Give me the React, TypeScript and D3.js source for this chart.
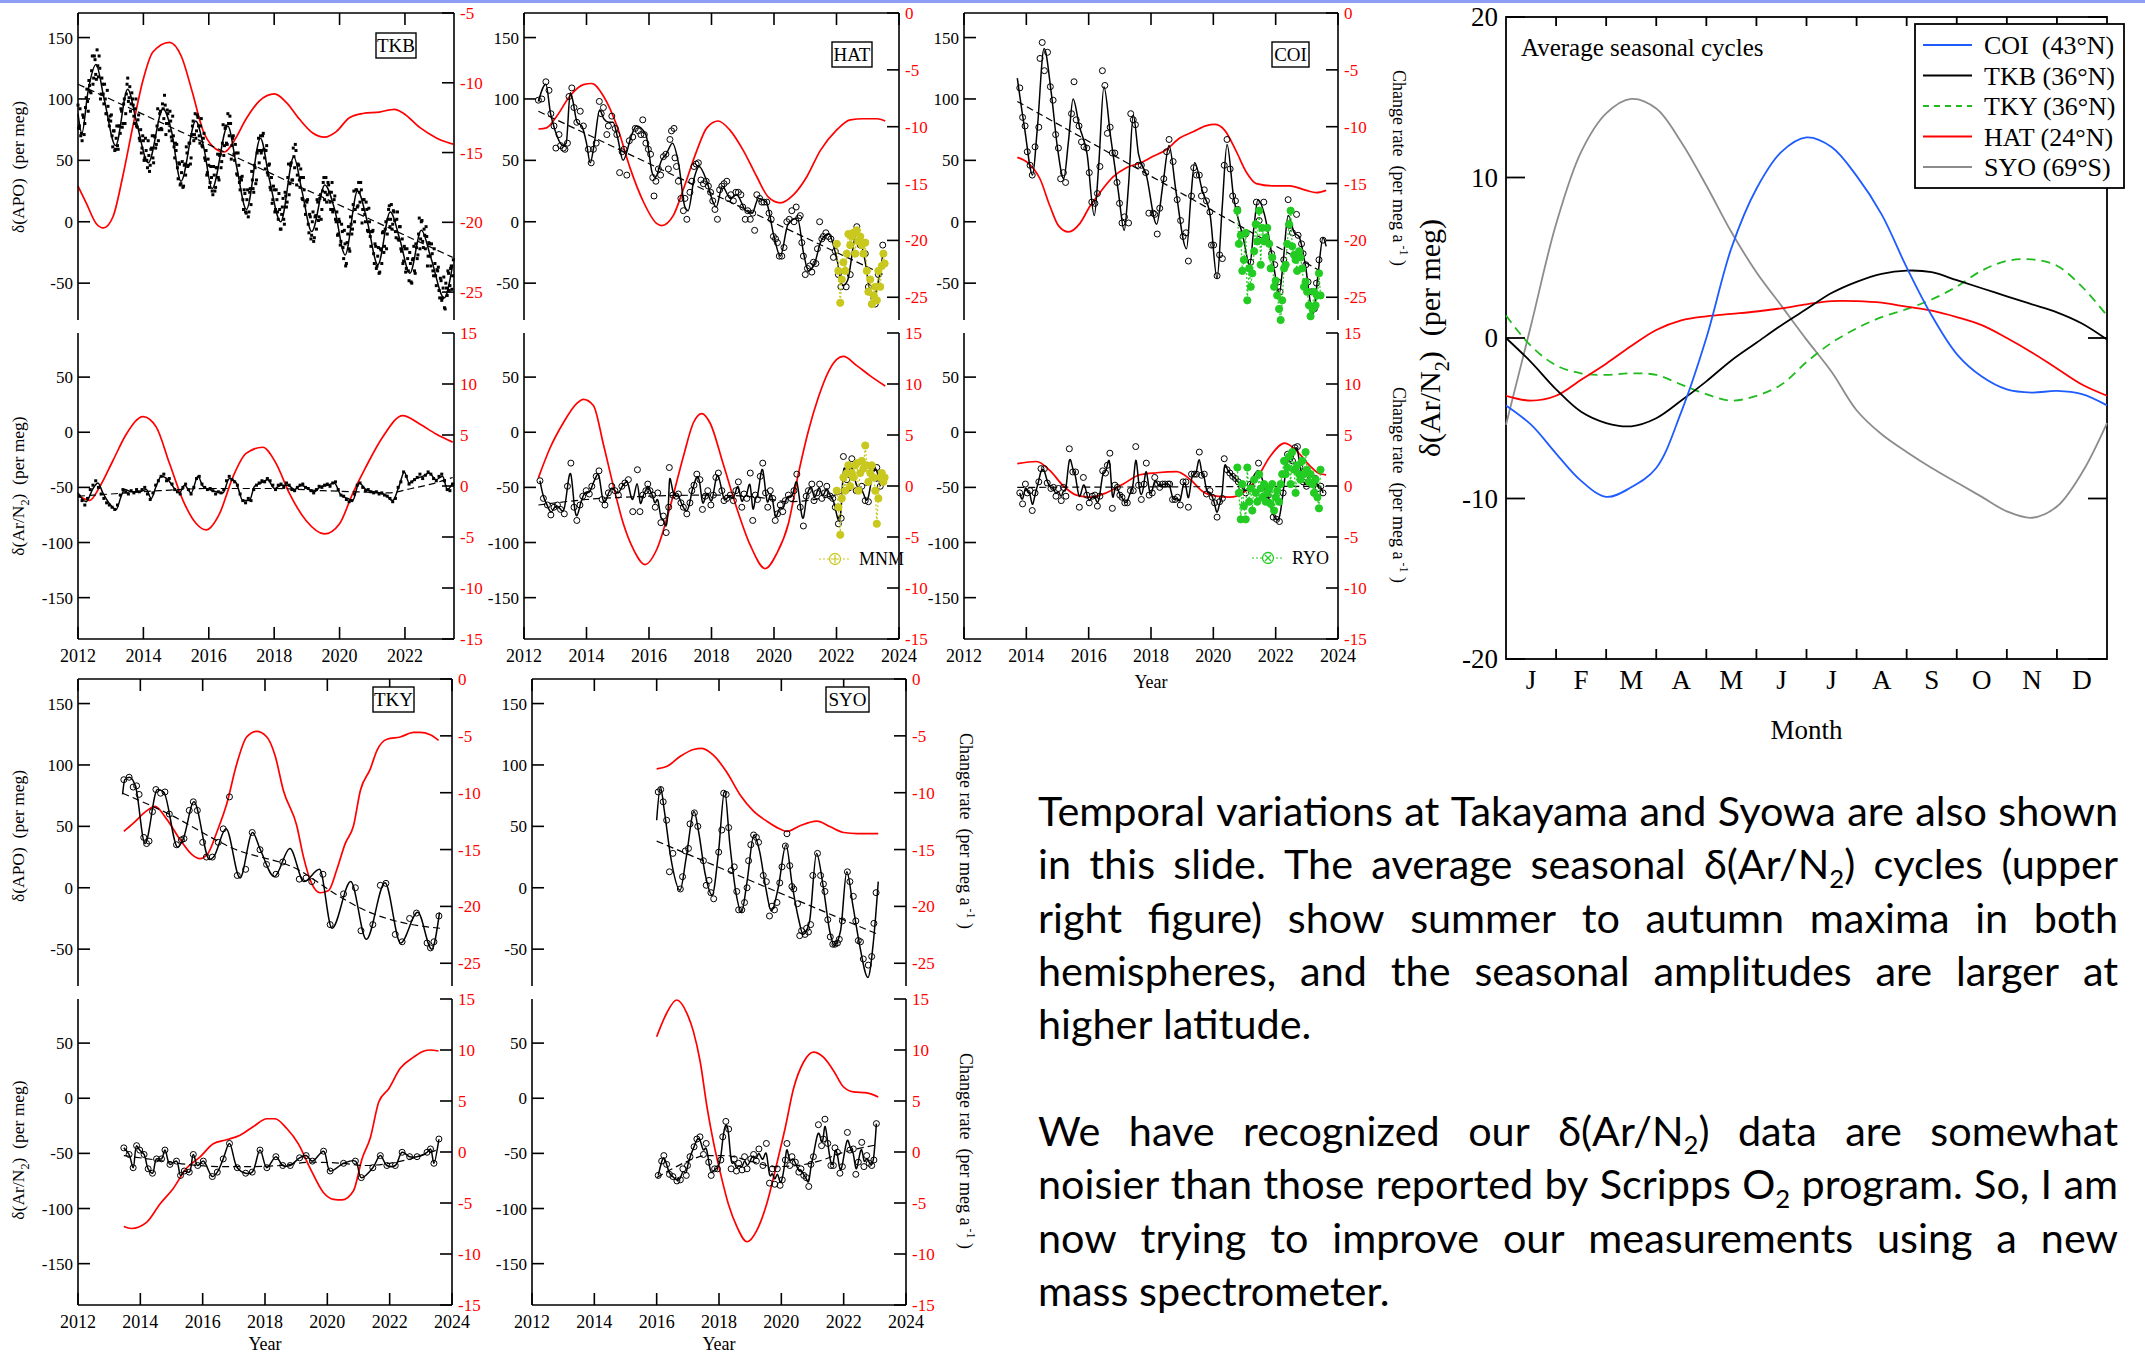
import React from "react";
import * as d3 from "d3";

type Pt = [number, number];
const SERIF = "'Liberation Serif','Times New Roman',Times,serif";
const RED = "#ff0000";

// ---------------- tick labels / categories ----------------
const yearTicks = [2012, 2014, 2016, 2018, 2020, 2022, 2024];
const apoTicks = [150, 100, 50, 0, -50];
const arTicks = [50, 0, -50, -100, -150];
const rateTicksTKB = [-5, -10, -15, -20, -25];
const rateTicksTop = [0, -5, -10, -15, -20, -25];
const rateTicksBot = [15, 10, 5, 0, -5, -10, -15];
const monthLabels = ["J", "F", "M", "A", "M", "J", "J", "A", "S", "O", "N", "D"];
const seasonTicks = [20, 10, 0, -10, -20];
const seasonPos = [0, 0.5, 1, 1.5, 2, 2.5, 3, 3.5, 4, 4.5, 5, 5.5, 6, 6.5, 7, 7.5, 8, 8.5, 9, 9.5, 10, 10.5, 11, 11.5, 12];

// ---------------- TKB ----------------
// semi-monthly observations from 2012.0 (step 1/24 yr)
const tkbApoDots = [
  95, 78, 70, 66, 85, 80, 101, 98, 115, 106, 123, 112, 135, 120, 140, 118, 125, 104, 112, 96, 100, 88, 94, 78,
  82, 70, 74, 58, 68, 62, 78, 72, 90, 80, 100, 88, 112, 98, 110, 96, 100, 86, 92, 78, 83, 68, 75, 60,
  66, 52, 58, 44, 54, 46, 60, 52, 70, 60, 78, 66, 88, 76, 96, 84, 95, 80, 88, 74, 82, 66, 70, 52,
  58, 44, 48, 30, 40, 28, 46, 38, 56, 46, 64, 52, 78, 66, 88, 74, 85, 70, 78, 62, 68, 52, 58, 40,
  46, 32, 36, 22, 38, 28, 44, 36, 54, 44, 64, 54, 76, 64, 88, 70, 80, 62, 70, 50, 56, 38, 46, 26,
  34, 18, 26, 8, 18, 4, 24, 14, 34, 24, 44, 34, 58, 48, 70, 58, 72, 52, 58, 40, 46, 28, 36, 18,
  26, 10, 18, 2, 10, -6, 12, 2, 24, 12, 36, 22, 46, 34, 60, 44, 58, 38, 46, 28, 36, 18, 26, 6,
  16, -2, 6, -14, 0, -16, 4, -6, 16, 4, 22, 10, 32, 18, 36, 22, 30, 16, 24, 8, 18, 2, 8, -10,
  0, -16, -8, -30, -18, -34, -10, -22, 4, -10, 14, 0, 26, 12, 32, 16, 26, 10, 18, 0, 10, -8, 0, -20,
  -8, -26, -18, -38, -28, -42, -22, -34, -8, -20, 0, -10, 10, -4, 14, -2, 8, -8, 2, -14, -4, -22, -14, -32,
  -22, -38, -30, -48, -34, -50, -30, -40, -18, -30, -10, -22, 0, -16, -6, -22, -12, -28, -18, -36, -26, -44, -34, -52,
  -40, -56, -46, -64, -54, -70, -50, -60, -42, -52, -36, -44,
];
// second set of semi-monthly observations, offset by a quarter month
const tkbApoDots2 = [
  76, 92, 72, 87, 71, 93, 108, 90, 111, 105, 135, 117, 132, 116, 127, 135, 100, 117, 104, 112, 88, 107, 83, 86,
  87, 61, 74, 59, 78, 59, 78, 92, 77, 96, 80, 104, 117, 101, 90, 105, 95, 80, 100, 77, 87, 66, 56, 70,
  50, 68, 50, 66, 41, 59, 70, 48, 69, 63, 92, 75, 90, 75, 92, 103, 71, 91, 80, 90, 69, 86, 61, 64,
  63, 35, 47, 31, 49, 29, 47, 61, 45, 64, 47, 71, 82, 71, 68, 87, 78, 64, 84, 61, 72, 50, 38, 51,
  28, 45, 25, 45, 25, 44, 55, 34, 55, 49, 79, 62, 78, 63, 80, 86, 51, 68, 55, 63, 39, 56, 32, 36,
  37, 10, 23, 7, 26, 8, 27, 41, 27, 46, 31, 56, 68, 58, 56, 70, 59, 43, 62, 38, 47, 26, 15, 29,
  8, 26, 8, 23, -6, 6, 19, -2, 21, 16, 47, 31, 48, 34, 53, 63, 30, 47, 34, 43, 19, 36, 13, 17,
  18, -9, 4, -11, 8, -13, 5, 18, 1, 19, 2, 25, 36, 24, 16, 32, 24, 10, 32, 10, 21, 0, -11, 2,
  -19, -2, -21, -7, -36, -17, -4, -24, -2, -6, 25, 10, 26, 13, 24, 32, -1, 18, 6, 16, -7, 11, -12, -8,
  -7, -34, -20, -36, -21, -41, -23, -9, -25, -6, -22, 2, 13, 2, -6, 9, 1, -13, 8, -15, -4, -24, -34, -20,
  -41, -22, -40, -25, -49, -31, -20, -42, -21, -27, 3, -14, 1, -21, -11, -4, -36, -17, -28, -18, -40, -22, -44, -39,
  -37, -62, -48, -62, -45, -71, -54, -40, -56, -38, -55, -31,
];
const tkbApoFit: Pt[] = [[2012.0,88],[2012.12,72],[2012.3,105],[2012.55,128],[2012.8,100],[2013.15,62],[2013.52,108],[2013.8,80],[2014.15,48],[2014.6,92],[2014.85,75],[2015.15,33],[2015.6,82],[2015.85,60],[2016.1,27],[2016.58,78],[2016.85,45],[2017.15,10],[2017.58,68],[2017.85,35],[2018.2,0],[2018.6,53],[2018.85,25],[2019.15,-8],[2019.55,30],[2019.85,10],[2020.17,-27],[2020.55,25],[2020.85,0],[2021.17,-35],[2021.55,8],[2021.85,-15],[2022.15,-42],[2022.5,-7],[2022.8,-30],[2023.2,-62],[2023.46,-35]];
const tkbApoTrend: Pt[] = [[2012.0,112],[2023.46,-29]];
const tkbApoRate: Pt[] = [[2012.0,-17.4],[2012.25,-18.6],[2012.56,-20.1],[2012.78,-20.4],[2013.07,-19.6],[2013.37,-16.7],[2013.68,-13.1],[2013.99,-9.8],[2014.29,-7.8],[2014.8,-7.1],[2015.16,-8.1],[2015.5,-10.7],[2015.82,-13.4],[2016.12,-14.55],[2016.48,-14.96],[2016.79,-14.1],[2017.14,-12.6],[2017.55,-11.3],[2018.01,-10.8],[2018.37,-11.4],[2018.77,-12.6],[2019.18,-13.6],[2019.54,-13.9],[2019.9,-13.5],[2020.3,-12.5],[2020.71,-12.2],[2021.22,-12.1],[2021.68,-11.9],[2021.94,-12.16],[2022.45,-13.2],[2022.96,-13.95],[2023.47,-14.4]];
// monthly observations from 2012 (mid-month)
const tkbArDots = [
  -58, -62, -66, -60, -52, -48, -44, -50, -56, -60, -64, -66,
  -68, -70, -66, -57, -52, -54, -56, -53, -55, -52, -54, -52,
  -50, -56, -61, -55, -48, -44, -40, -38, -44, -42, -47, -52,
  -54, -56, -50, -47, -52, -56, -50, -42, -40, -47, -50, -52,
  -51, -53, -56, -54, -55, -52, -44, -40, -43, -45, -48, -56,
  -62, -64, -60, -62, -52, -48, -46, -44, -45, -42, -44, -48,
  -52, -48, -47, -50, -46, -48, -52, -53, -50, -48, -47, -50,
  -51, -53, -55, -52, -49, -50, -48, -47, -49, -46, -45, -52,
  -57, -58, -61, -63, -62, -56, -48, -46, -50, -53, -52, -54,
  -55, -54, -56, -55, -57, -58, -60, -63, -60, -50, -45, -36,
  -40, -47, -45, -43, -41, -38, -42, -39, -36, -38, -42, -44,
  -40, -38, -44, -52, -53, -47,
];
const tkbArFit: Pt[] = [[2012.0,-55],[2012.25,-63],[2012.46,-51],[2012.61,-46],[2012.76,-55],[2012.97,-65],[2013.17,-70],[2013.32,-58],[2013.43,-52],[2013.63,-54],[2013.88,-54],[2014.09,-52],[2014.24,-60],[2014.39,-49],[2014.55,-40],[2014.75,-43],[2014.95,-51],[2015.1,-55],[2015.26,-48],[2015.46,-55],[2015.67,-40],[2015.82,-49],[2016.02,-52],[2016.23,-54],[2016.43,-55],[2016.63,-42],[2016.84,-46],[2017.04,-62],[2017.24,-62],[2017.4,-49],[2017.6,-46],[2017.8,-43],[2018.01,-51],[2018.21,-48],[2018.42,-48],[2018.62,-52],[2018.82,-48],[2019.03,-51],[2019.23,-54],[2019.43,-49],[2019.64,-48],[2019.84,-46],[2020.04,-57],[2020.25,-60],[2020.4,-62],[2020.6,-46],[2020.81,-52],[2021.01,-54],[2021.22,-55],[2021.42,-57],[2021.62,-62],[2021.83,-48],[2021.98,-36],[2022.13,-46],[2022.34,-42],[2022.54,-40],[2022.74,-37],[2022.95,-43],[2023.15,-40],[2023.3,-52],[2023.46,-46]];
const tkbArTrend: Pt[] = [[2012.0,-58],[2013.0,-56],[2014.5,-53],[2016.0,-51],[2018.0,-51],[2019.5,-53],[2020.5,-54],[2021.5,-55],[2022.2,-51],[2022.8,-47],[2023.46,-41]];
const tkbArRate: Pt[] = [[2012.0,-0.9],[2012.36,-1.4],[2012.66,-0.1],[2013.07,2.5],[2013.48,5.1],[2013.99,6.8],[2014.39,5.8],[2014.8,2.2],[2015.21,-1.4],[2015.62,-3.7],[2015.92,-4.3],[2016.33,-2.7],[2016.74,0.9],[2017.14,3.2],[2017.65,3.8],[2018.06,2.2],[2018.47,-0.75],[2018.98,-3.4],[2019.54,-4.7],[2020.0,-3.7],[2020.4,-0.75],[2020.81,1.9],[2021.32,4.8],[2021.93,6.9],[2022.44,6.1],[2022.95,5.1],[2023.46,4.3]];

// ---------------- HAT ----------------
const hatApoObs: Pt[] = [[2012.46,99],[2012.57,100],[2012.7,114],[2012.8,107],[2012.86,88],[2012.96,78],[2013.02,60],[2013.12,71],[2013.17,62],[2013.26,60],[2013.31,59],[2013.39,64],[2013.44,102],[2013.53,109],[2013.6,93],[2013.69,81],[2013.8,90],[2013.9,78],[2014.06,59],[2014.15,48],[2014.22,59],[2014.31,64],[2014.41,98],[2014.47,88],[2014.54,93],[2014.65,71],[2014.7,78],[2014.81,86],[2014.92,76],[2014.97,71],[2015.06,40],[2015.14,57],[2015.2,59],[2015.29,38],[2015.37,66],[2015.48,69],[2015.56,76],[2015.66,74],[2015.74,71],[2015.8,83],[2015.85,71],[2015.9,64],[2015.98,59],[2016.05,55],[2016.12,36],[2016.16,21],[2016.22,33],[2016.3,43],[2016.37,38],[2016.46,53],[2016.54,55],[2016.62,43],[2016.67,67],[2016.72,74],[2016.8,76],[2016.83,52],[2016.88,45],[2016.94,33],[2017.02,19],[2017.1,9],[2017.15,19],[2017.21,2],[2017.31,24],[2017.37,33],[2017.44,45],[2017.51,47],[2017.58,48],[2017.66,34],[2017.74,31],[2017.83,33],[2017.9,29],[2017.97,24],[2018.04,17],[2018.11,10],[2018.19,2],[2018.26,26],[2018.33,29],[2018.4,31],[2018.49,33],[2018.54,19],[2018.62,22],[2018.7,17],[2018.78,24],[2018.86,24],[2018.94,22],[2019.0,12],[2019.08,2],[2019.16,9],[2019.24,2],[2019.32,7],[2019.38,-7],[2019.45,22],[2019.54,19],[2019.61,16],[2019.68,16],[2019.77,16],[2019.84,7],[2019.91,2],[2019.98,-12],[2020.05,-14],[2020.11,-17],[2020.17,-28],[2020.25,-28],[2020.32,-21],[2020.41,0],[2020.49,2],[2020.57,9],[2020.64,0],[2020.71,12],[2020.79,3],[2020.84,5],[2020.89,-17],[2020.94,-28],[2021.0,-43],[2021.07,-38],[2021.14,-36],[2021.21,-41],[2021.26,-33],[2021.34,-34],[2021.39,-22],[2021.46,0],[2021.53,-14],[2021.58,-12],[2021.66,-9],[2021.74,-12],[2021.82,-14],[2021.9,-29],[2021.96,-24],[2022.06,-43],[2022.14,-53],[2022.31,-53],[2022.44,-43],[2022.65,-4],[2022.76,-19],[2022.92,-26],[2023.02,-53],[2023.13,-67],[2023.24,-67],[2023.34,-43],[2023.48,-19]];
const hatApoFit: Pt[] = [[2012.46,98],[2012.7,112],[2012.85,88],[2013.0,74],[2013.25,62],[2013.35,64],[2013.48,105],[2013.55,100],[2013.7,81],[2013.85,78],[2014.0,64],[2014.12,48],[2014.25,64],[2014.42,91],[2014.55,84],[2014.72,81],[2014.85,81],[2015.0,68],[2015.17,50],[2015.45,71],[2015.6,78],[2015.9,71],[2016.1,40],[2016.2,36],[2016.4,50],[2016.55,55],[2016.75,64],[2016.95,47],[2017.15,12],[2017.25,9],[2017.45,36],[2017.6,45],[2017.85,33],[2018.05,16],[2018.15,12],[2018.35,29],[2018.6,19],[2018.8,22],[2019.1,9],[2019.3,7],[2019.5,19],[2019.75,16],[2020.0,-12],[2020.2,-28],[2020.45,-2],[2020.75,3],[2020.95,-26],[2021.1,-40],[2021.3,-34],[2021.5,-16],[2021.75,-10],[2022.0,-29],[2022.2,-52],[2022.35,-48],[2022.65,-8],[2022.9,-30],[2023.15,-65],[2023.35,-47],[2023.5,-24]];
const hatApoTrend: Pt[] = [[2012.46,90],[2023.5,-43]];
const hatApoRate: Pt[] = [[2012.46,-10.2],[2012.72,-10.1],[2013.04,-9.1],[2013.47,-7.3],[2013.9,-6.3],[2014.17,-6.2],[2014.54,-7.3],[2014.97,-9.9],[2015.39,-13.6],[2015.82,-16.6],[2016.24,-18.5],[2016.4,-18.7],[2016.78,-17.8],[2017.1,-15.5],[2017.53,-12.1],[2017.85,-10.1],[2018.21,-9.5],[2018.59,-10.3],[2019.02,-12.1],[2019.45,-14.4],[2019.82,-16.2],[2020.2,-16.7],[2020.62,-16.0],[2021.05,-14.4],[2021.48,-12.1],[2022.0,-10.3],[2022.44,-9.4],[2022.86,-9.3],[2023.29,-9.3],[2023.56,-9.5]];
const hatArObs: Pt[] = [[2012.51,-44],[2012.62,-60],[2012.75,-66],[2012.86,-75],[2012.96,-68],[2013.07,-66],[2013.17,-70],[2013.29,-74],[2013.39,-49],[2013.5,-28],[2013.6,-68],[2013.69,-80],[2013.79,-66],[2013.88,-58],[2013.99,-53],[2014.09,-56],[2014.17,-49],[2014.31,-40],[2014.4,-35],[2014.5,-61],[2014.59,-66],[2014.7,-55],[2014.81,-49],[2014.91,-53],[2015.02,-57],[2015.13,-49],[2015.23,-46],[2015.34,-43],[2015.48,-72],[2015.63,-34],[2015.71,-72],[2015.8,-57],[2015.9,-53],[2015.96,-47],[2016.03,-53],[2016.12,-57],[2016.2,-68],[2016.28,-55],[2016.38,-82],[2016.46,-76],[2016.55,-91],[2016.63,-68],[2016.65,-32],[2016.76,-57],[2016.87,-58],[2016.94,-56],[2017.02,-64],[2017.1,-68],[2017.21,-74],[2017.31,-64],[2017.37,-53],[2017.44,-48],[2017.53,-38],[2017.63,-43],[2017.71,-70],[2017.8,-58],[2017.88,-53],[2017.98,-66],[2018.06,-57],[2018.14,-41],[2018.22,-37],[2018.33,-53],[2018.4,-62],[2018.49,-60],[2018.6,-57],[2018.7,-62],[2018.78,-53],[2018.86,-45],[2018.97,-68],[2019.04,-56],[2019.13,-60],[2019.24,-37],[2019.32,-80],[2019.4,-57],[2019.47,-61],[2019.56,-40],[2019.64,-28],[2019.73,-55],[2019.8,-68],[2019.88,-53],[2019.96,-60],[2020.04,-80],[2020.11,-74],[2020.2,-66],[2020.28,-72],[2020.36,-62],[2020.46,-57],[2020.55,-60],[2020.64,-53],[2020.73,-38],[2020.84,-68],[2020.94,-85],[2021.03,-58],[2021.1,-53],[2021.21,-47],[2021.28,-62],[2021.37,-55],[2021.46,-47],[2021.53,-60],[2021.62,-55],[2021.69,-49],[2021.8,-58],[2021.88,-60],[2021.96,-68],[2022.06,-83],[2022.15,-78],[2022.22,-22],[2022.33,-43],[2022.49,-24],[2022.63,-53],[2022.81,-49],[2022.92,-62],[2023.02,-63],[2023.16,-33],[2023.29,-32],[2023.4,-49]];
const hatArTrend: Pt[] = [[2012.46,-66],[2014.0,-61],[2016.0,-58],[2018.0,-57],[2019.5,-59],[2020.5,-63],[2021.5,-60],[2022.2,-55],[2023.5,-42]];
const hatArRate: Pt[] = [[2012.46,0.8],[2012.83,3.7],[2013.26,6.2],[2013.69,8.1],[2013.9,8.5],[2014.22,7.9],[2014.54,4.1],[2014.86,0],[2015.18,-3.7],[2015.5,-6.2],[2015.87,-7.7],[2016.25,-6.2],[2016.67,-2.1],[2017.1,2.9],[2017.42,6.2],[2017.69,7.1],[2017.95,6.2],[2018.38,2.1],[2018.8,-2.1],[2019.24,-5.8],[2019.72,-8.1],[2020.09,-6.6],[2020.46,-3.7],[2020.78,1.2],[2021.1,5.4],[2021.42,8.7],[2021.74,11.2],[2022.0,12.4],[2022.22,12.7],[2022.65,11.8],[2023.08,10.8],[2023.56,9.8]];
const mnmApo: Pt[] = [[2022.01,-18],[2022.06,-40],[2022.12,-66],[2022.17,-47],[2022.22,-33],[2022.28,-40],[2022.33,-26],[2022.38,-10],[2022.44,-19],[2022.49,-12],[2022.54,-9],[2022.6,-26],[2022.65,-7],[2022.7,-16],[2022.76,-12],[2022.81,-19],[2022.86,-26],[2022.92,-17],[2022.97,-40],[2023.02,-57],[2023.08,-47],[2023.13,-67],[2023.19,-60],[2023.24,-53],[2023.29,-64],[2023.34,-40],[2023.4,-53],[2023.45,-36],[2023.5,-26],[2023.54,-34]];
const mnmAr: Pt[] = [[2022.01,-53],[2022.06,-68],[2022.12,-93],[2022.17,-60],[2022.22,-41],[2022.28,-53],[2022.33,-37],[2022.38,-30],[2022.44,-49],[2022.49,-37],[2022.54,-41],[2022.6,-30],[2022.65,-28],[2022.7,-53],[2022.76,-37],[2022.81,-26],[2022.86,-33],[2022.92,-12],[2022.97,-30],[2023.02,-45],[2023.08,-37],[2023.13,-30],[2023.19,-41],[2023.24,-53],[2023.29,-83],[2023.34,-60],[2023.4,-41],[2023.45,-37],[2023.5,-45],[2023.54,-41]];

// ---------------- COI ----------------
const coiApoObs: Pt[] = [[2013.79,109],[2013.88,85],[2013.96,78],[2014.03,57],[2014.12,46],[2014.19,38],[2014.28,61],[2014.4,77],[2014.44,133],[2014.51,146],[2014.58,123],[2014.68,138],[2014.77,110],[2014.86,99],[2014.94,71],[2015.03,60],[2015.1,35],[2015.19,40],[2015.26,32],[2015.45,88],[2015.53,114],[2015.6,83],[2015.69,78],[2015.77,65],[2015.85,61],[2015.94,60],[2016.02,40],[2016.1,16],[2016.2,15],[2016.28,23],[2016.36,45],[2016.44,123],[2016.52,111],[2016.6,72],[2016.69,77],[2016.76,56],[2016.84,56],[2016.91,32],[2016.99,15],[2017.07,-1],[2017.15,4],[2017.28,-1],[2017.35,88],[2017.43,83],[2017.5,79],[2017.59,46],[2017.69,46],[2017.83,40],[2017.93,7],[2018.07,7],[2018.12,6],[2018.2,-10],[2018.28,11],[2018.41,35],[2018.5,57],[2018.58,67],[2018.71,49],[2018.84,18],[2018.95,1],[2019.03,-12],[2019.12,-9],[2019.2,-32],[2019.3,21],[2019.37,44],[2019.46,38],[2019.55,38],[2019.62,21],[2019.71,26],[2019.78,17],[2019.89,8],[2019.94,-19],[2020.01,-19],[2020.12,-44],[2020.2,-27],[2020.29,-30],[2020.35,46],[2020.44,67],[2020.54,43],[2020.62,21],[2020.71,17],[2020.78,10],[2020.91,-10],[2021.04,-10],[2021.2,-33],[2021.38,16],[2021.47,1],[2021.62,16],[2021.73,-5],[2021.87,-26],[2021.97,-35],[2022.08,-49],[2022.14,-57],[2022.26,-31],[2022.4,18],[2022.45,-3],[2022.54,-9],[2022.67,6],[2022.72,-11],[2022.83,-18],[2022.88,-26],[2022.97,-35],[2023.04,-49],[2023.15,-57],[2023.24,-71],[2023.31,-50],[2023.39,-31],[2023.52,-15]];
const coiApoFit: Pt[] = [[2013.71,117],[2013.95,75],[2014.2,38],[2014.35,75],[2014.57,141],[2014.8,105],[2015.0,60],[2015.2,35],[2015.35,65],[2015.5,100],[2015.7,78],[2015.95,55],[2016.18,5],[2016.32,45],[2016.49,110],[2016.7,70],[2016.95,25],[2017.14,-7],[2017.28,30],[2017.43,87],[2017.6,55],[2017.85,38],[2018.18,-2],[2018.38,30],[2018.58,62],[2018.8,25],[2019.14,-22],[2019.28,20],[2019.4,48],[2019.65,25],[2019.9,5],[2020.12,-46],[2020.28,10],[2020.44,63],[2020.65,20],[2020.95,-12],[2021.17,-35],[2021.3,-5],[2021.43,18],[2021.65,5],[2021.9,-30],[2022.12,-58],[2022.25,-30],[2022.4,5],[2022.6,-9],[2022.75,-12],[2022.95,-35],[2023.2,-75],[2023.35,-45],[2023.52,-13],[2023.62,-20]];
const coiApoTrend: Pt[] = [[2013.71,98],[2023.57,-42]];
const coiApoRate: Pt[] = [[2013.71,-12.7],[2014.06,-13.2],[2014.44,-14.6],[2014.76,-17.0],[2015.03,-18.7],[2015.35,-19.25],[2015.72,-18.5],[2016.04,-17.0],[2016.36,-15.8],[2016.79,-14.4],[2017.21,-13.6],[2017.64,-13.2],[2018.07,-12.6],[2018.5,-12.0],[2018.92,-11.0],[2019.35,-10.45],[2019.78,-9.9],[2020.04,-9.8],[2020.36,-10.3],[2020.74,-12.2],[2021.06,-14.0],[2021.38,-15.0],[2021.91,-15.2],[2022.45,-15.2],[2022.98,-15.6],[2023.3,-15.8],[2023.62,-15.6]];
const coiArObs: Pt[] = [[2013.79,-55],[2013.88,-65],[2013.97,-47],[2014.03,-55],[2014.12,-53],[2014.19,-71],[2014.28,-55],[2014.4,-45],[2014.47,-33],[2014.58,-33],[2014.67,-46],[2014.79,-51],[2014.87,-50],[2014.95,-58],[2015.03,-51],[2015.12,-62],[2015.19,-50],[2015.27,-58],[2015.38,-15],[2015.49,-36],[2015.58,-36],[2015.7,-68],[2015.83,-41],[2015.94,-57],[2016.02,-64],[2016.12,-58],[2016.2,-57],[2016.28,-67],[2016.36,-58],[2016.45,-35],[2016.54,-37],[2016.6,-30],[2016.68,-19],[2016.76,-69],[2016.84,-48],[2016.92,-50],[2017.0,-57],[2017.07,-59],[2017.16,-64],[2017.24,-64],[2017.34,-53],[2017.43,-53],[2017.51,-13],[2017.6,-48],[2017.69,-61],[2017.78,-47],[2017.85,-28],[2017.94,-57],[2018.04,-55],[2018.12,-41],[2018.21,-47],[2018.28,-50],[2018.37,-47],[2018.45,-47],[2018.55,-47],[2018.6,-47],[2018.69,-61],[2018.77,-61],[2018.85,-59],[2018.94,-66],[2019.03,-45],[2019.12,-45],[2019.2,-68],[2019.3,-38],[2019.39,-38],[2019.46,-38],[2019.55,-18],[2019.62,-39],[2019.71,-38],[2019.78,-56],[2019.89,-53],[2019.97,-59],[2020.04,-64],[2020.12,-77],[2020.2,-63],[2020.29,-60],[2020.35,-24],[2020.44,-34],[2020.53,-37],[2020.62,-40],[2020.71,-42],[2020.8,-45],[2020.91,-50],[2021.04,-55],[2021.19,-47],[2021.45,-28],[2021.62,-49],[2021.76,-57],[2021.92,-77],[2022.03,-79],[2022.12,-81],[2022.24,-55],[2022.38,-20],[2022.46,-24],[2022.54,-26],[2022.62,-14],[2022.7,-13],[2022.78,-32],[2022.88,-45],[2022.99,-49],[2023.1,-43],[2023.2,-47],[2023.28,-42],[2023.36,-51],[2023.45,-49],[2023.52,-55]];
const coiArTrend: Pt[] = [[2013.71,-50],[2023.62,-49]];
const coiArRate: Pt[] = [[2013.71,2.2],[2014.33,2.4],[2014.76,1.5],[2015.19,0],[2015.61,-0.9],[2016.04,-1.1],[2016.57,-0.66],[2017.11,0.2],[2017.64,1.1],[2018.18,1.3],[2018.82,1.4],[2019.25,0.66],[2019.67,-0.57],[2020.1,-1.0],[2020.53,-1.1],[2020.96,-0.66],[2021.38,0.66],[2021.81,2.85],[2022.29,4.2],[2022.72,3.3],[2023.09,2.0],[2023.41,1.2],[2023.62,1.1]];
const ryoApo: Pt[] = [[2020.77,9],[2020.82,-18],[2020.88,-11],[2020.93,-40],[2020.98,-31],[2021.04,-9],[2021.09,-64],[2021.15,-38],[2021.2,-53],[2021.25,-42],[2021.31,-24],[2021.36,-2],[2021.41,-16],[2021.47,9],[2021.52,-35],[2021.57,-5],[2021.63,-16],[2021.68,-13],[2021.73,-5],[2021.79,-18],[2021.84,-38],[2021.89,-29],[2021.95,-53],[2022.0,-48],[2022.05,-60],[2022.11,-71],[2022.16,-80],[2022.21,-64],[2022.27,-38],[2022.32,-35],[2022.37,-18],[2022.43,-2],[2022.48,9],[2022.53,-20],[2022.59,-27],[2022.64,-31],[2022.69,-40],[2022.75,-24],[2022.8,-29],[2022.85,-38],[2022.91,-53],[2022.96,-49],[2023.01,-57],[2023.07,-68],[2023.12,-77],[2023.18,-71],[2023.23,-57],[2023.28,-68],[2023.34,-60],[2023.39,-42],[2023.44,-60]];
const ryoAr: Pt[] = [[2020.77,-32],[2020.82,-55],[2020.88,-79],[2020.93,-47],[2020.98,-67],[2021.04,-79],[2021.09,-32],[2021.15,-63],[2021.2,-51],[2021.25,-71],[2021.31,-43],[2021.36,-55],[2021.41,-63],[2021.47,-38],[2021.52,-51],[2021.57,-59],[2021.63,-47],[2021.68,-63],[2021.73,-55],[2021.79,-51],[2021.84,-65],[2021.89,-47],[2021.95,-71],[2022.0,-59],[2022.05,-53],[2022.11,-63],[2022.16,-47],[2022.21,-38],[2022.27,-26],[2022.32,-38],[2022.37,-32],[2022.43,-22],[2022.48,-47],[2022.53,-18],[2022.59,-34],[2022.64,-55],[2022.69,-30],[2022.75,-38],[2022.8,-43],[2022.85,-26],[2022.91,-38],[2022.96,-18],[2023.01,-34],[2023.07,-45],[2023.12,-38],[2023.18,-47],[2023.23,-55],[2023.28,-43],[2023.34,-59],[2023.39,-69],[2023.44,-34]];

// ---------------- TKY ----------------
const tkyApoObs: Pt[] = [[2013.47,88],[2013.64,90],[2013.77,82],[2013.88,83],[2013.96,76],[2014.11,41],[2014.2,36],[2014.28,38],[2014.39,62],[2014.5,80],[2014.65,77],[2014.79,78],[2014.93,60],[2015.16,35],[2015.32,39],[2015.4,40],[2015.57,63],[2015.7,70],[2015.83,63],[2016.0,37],[2016.12,25],[2016.31,25],[2016.5,37],[2016.66,48],[2016.86,74],[2017.11,10],[2017.38,15],[2017.59,45],[2017.84,31],[2018.05,19],[2018.35,11],[2018.57,21],[2019.1,7],[2019.32,8],[2019.5,5],[2019.86,11],[2020.09,-30],[2020.52,-5],[2020.9,0],[2021.08,-35],[2021.46,-30],[2021.7,2],[2021.88,3.6],[2022.18,-38],[2022.4,-44],[2022.64,-25],[2022.86,-20.6],[2023.2,-45],[2023.31,-49],[2023.42,-44],[2023.58,-23]];
const tkyApoFit: Pt[] = [[2013.43,76],[2013.5,88],[2013.65,90],[2013.85,82],[2014.15,36],[2014.55,80],[2014.75,78],[2015.2,33],[2015.38,40],[2015.72,70],[2016.22,23],[2016.35,25],[2016.75,48],[2017.2,8],[2017.6,45],[2017.85,31],[2018.3,9],[2018.8,32],[2019.25,5],[2019.75,15],[2020.15,-33],[2020.75,5],[2021.25,-42],[2021.85,4],[2022.35,-45],[2022.9,-20],[2023.35,-50],[2023.6,-20]];
const tkyApoTrend: Pt[] = [[2013.43,77],[2014.84,61],[2016.98,32],[2019.12,14],[2020.19,-4],[2021.26,-19],[2022.34,-28],[2023.63,-33]];
const tkyApoRate: Pt[] = [[2013.47,-13.4],[2013.77,-12.7],[2014.2,-11.6],[2014.47,-11.2],[2014.84,-12.3],[2015.27,-14.1],[2015.64,-15.4],[2015.91,-15.8],[2016.18,-15.3],[2016.45,-13.5],[2016.77,-11.0],[2017.09,-7.5],[2017.41,-5.1],[2017.73,-4.6],[2018.06,-5.1],[2018.32,-6.7],[2018.59,-9.8],[2019.02,-12.9],[2019.23,-15.6],[2019.5,-18.0],[2019.77,-18.8],[2020.04,-18.6],[2020.3,-16.8],[2020.57,-14.5],[2020.84,-12.9],[2021.06,-9.8],[2021.38,-7.9],[2021.59,-6.3],[2021.91,-5.3],[2022.34,-5.1],[2022.77,-4.7],[2022.98,-4.7],[2023.3,-4.9],[2023.57,-5.4]];
const tkyArObs: Pt[] = [[2013.47,-45],[2013.64,-51],[2013.77,-63],[2013.88,-43],[2013.98,-47],[2014.12,-51],[2014.25,-64],[2014.39,-68],[2014.52,-55],[2014.68,-55],[2014.79,-47],[2014.95,-60],[2015.16,-57],[2015.29,-70],[2015.41,-66],[2015.57,-67],[2015.7,-51],[2015.84,-61],[2016.02,-57],[2016.31,-71],[2016.47,-67],[2016.66,-55],[2016.86,-41],[2017.11,-63],[2017.38,-68],[2017.59,-67],[2017.84,-47],[2018.06,-63],[2018.35,-53],[2018.57,-61],[2018.81,-61],[2019.11,-54],[2019.32,-52],[2019.52,-57],[2019.88,-48],[2020.09,-66],[2020.52,-59],[2020.9,-57],[2021.09,-72],[2021.46,-63],[2021.7,-52],[2021.91,-61],[2022.18,-61],[2022.4,-49],[2022.64,-53],[2022.88,-53],[2023.2,-49],[2023.31,-46],[2023.42,-59],[2023.58,-37]];
const tkyArTrend: Pt[] = [[2013.47,-52],[2014.5,-56],[2015.5,-60],[2016.5,-62],[2017.5,-62],[2018.5,-61],[2019.5,-58],[2020.5,-59],[2021.2,-61],[2022.0,-59],[2022.8,-54],[2023.6,-46]];
const tkyArRate: Pt[] = [[2013.47,-7.3],[2013.71,-7.5],[2014.2,-6.9],[2014.63,-5.1],[2015.05,-3.6],[2015.48,-1.6],[2015.91,-0.5],[2016.34,0.8],[2016.77,1.2],[2017.2,1.65],[2017.63,2.5],[2018.06,3.26],[2018.32,3.26],[2018.7,2.3],[2019.07,0.8],[2019.45,-1.6],[2019.88,-4.0],[2020.2,-4.65],[2020.47,-4.7],[2020.84,-3.8],[2021.11,-0.7],[2021.38,1.4],[2021.65,4.9],[2021.97,6.2],[2022.34,8.2],[2022.77,9.3],[2023.1,9.9],[2023.3,10.0],[2023.57,9.9]];

// ---------------- SYO ----------------
const syoApoObs: Pt[] = [[2016.05,78],[2016.13,80],[2016.21,70],[2016.32,55],[2016.41,13],[2016.52,28],[2016.76,-1],[2016.83,9],[2016.92,30],[2017.02,32],[2017.07,52],[2017.21,61],[2017.32,50],[2017.5,22],[2017.59,2],[2017.68,6],[2017.74,-4],[2017.83,-9],[2017.99,29],[2018.09,47],[2018.15,77],[2018.23,76],[2018.31,49],[2018.39,14],[2018.49,17],[2018.57,-3],[2018.63,-18],[2018.73,-18],[2018.82,-12],[2018.9,0],[2018.95,22],[2019.02,35],[2019.11,43],[2019.2,41],[2019.27,37],[2019.42,10],[2019.52,5],[2019.62,-23],[2019.7,-15],[2019.78,-18],[2019.86,-12],[2019.95,4],[2020.02,17],[2020.13,34],[2020.18,44],[2020.27,18],[2020.34,1],[2020.4,-1],[2020.52,-13],[2020.59,-39],[2020.65,-35],[2020.76,-38],[2020.81,-33],[2020.87,-36],[2020.94,-30],[2021.01,10],[2021.16,28],[2021.26,10],[2021.35,3],[2021.4,-3],[2021.49,-26],[2021.57,-40],[2021.65,-46],[2021.72,-46],[2021.8,-45],[2021.86,-42],[2021.96,-27],[2022.12,13],[2022.2,5],[2022.31,-7],[2022.39,-27],[2022.47,-43],[2022.54,-44],[2022.63,-58],[2022.79,-63],[2022.9,-56],[2022.97,-29],[2023.04,-4]];
const syoApoFit: Pt[] = [[2016.0,55],[2016.12,82],[2016.25,62],[2016.45,25],[2016.75,-2],[2016.95,25],[2017.2,62],[2017.35,45],[2017.55,12],[2017.78,-6],[2017.98,28],[2018.18,79],[2018.35,35],[2018.55,-5],[2018.72,-20],[2018.9,5],[2019.12,43],[2019.3,30],[2019.5,0],[2019.68,-19],[2019.9,0],[2020.15,35],[2020.35,2],[2020.55,-25],[2020.7,-38],[2020.9,-28],[2021.13,28],[2021.35,0],[2021.55,-35],[2021.7,-47],[2021.9,-35],[2022.1,13],[2022.3,-15],[2022.5,-45],[2022.78,-73],[2022.95,-45],[2023.11,5]];
const syoApoTrend: Pt[] = [[2016.0,38],[2023.11,-38]];
const syoApoRate: Pt[] = [[2016.0,-7.9],[2016.32,-7.7],[2016.76,-6.8],[2017.18,-6.2],[2017.45,-6.1],[2017.82,-6.7],[2018.25,-8.2],[2018.68,-10.2],[2019.1,-11.6],[2019.53,-12.5],[2019.96,-13.2],[2020.18,-13.4],[2020.6,-12.9],[2021.14,-12.5],[2021.57,-13.0],[2022.0,-13.5],[2022.43,-13.6],[2023.11,-13.6]];
const syoArObs: Pt[] = [[2016.05,-70],[2016.16,-57],[2016.23,-52],[2016.32,-60],[2016.41,-69],[2016.52,-71],[2016.65,-75],[2016.76,-74],[2016.84,-64],[2016.95,-70],[2016.99,-61],[2017.07,-53],[2017.2,-44],[2017.29,-37],[2017.39,-35],[2017.5,-51],[2017.59,-41],[2017.67,-58],[2017.75,-70],[2017.86,-64],[2017.95,-64],[2018.06,-56],[2018.12,-35],[2018.22,-21],[2018.31,-28],[2018.39,-64],[2018.49,-55],[2018.56,-66],[2018.63,-59],[2018.74,-65],[2018.82,-53],[2018.9,-64],[2019.02,-55],[2019.11,-51],[2019.2,-57],[2019.28,-46],[2019.41,-61],[2019.52,-41],[2019.62,-77],[2019.71,-64],[2019.79,-78],[2019.87,-64],[2019.96,-79],[2020.03,-74],[2020.13,-56],[2020.18,-41],[2020.27,-61],[2020.34,-53],[2020.45,-58],[2020.56,-67],[2020.63,-64],[2020.72,-70],[2020.8,-72],[2020.88,-80],[2020.95,-60],[2021.03,-53],[2021.19,-24],[2021.29,-43],[2021.35,-37],[2021.4,-19],[2021.49,-41],[2021.59,-61],[2021.67,-61],[2021.72,-45],[2021.8,-49],[2021.88,-68],[2021.96,-62],[2022.12,-31],[2022.2,-47],[2022.31,-46],[2022.39,-69],[2022.47,-58],[2022.58,-40],[2022.65,-62],[2022.74,-52],[2022.82,-59],[2022.9,-61],[2022.97,-56],[2023.05,-23]];
const syoArTrend: Pt[] = [[2016.0,-72],[2016.5,-64],[2017.0,-57],[2017.6,-52],[2018.2,-52],[2019.0,-57],[2019.8,-62],[2020.5,-61],[2021.2,-57],[2022.0,-49],[2023.11,-42]];
const syoArRate: Pt[] = [[2016.0,11.3],[2016.32,13.6],[2016.64,14.9],[2016.97,13.6],[2017.18,11.8],[2017.4,8.8],[2017.61,4.5],[2017.82,1.0],[2018.04,-2.0],[2018.3,-5.1],[2018.57,-7.3],[2018.9,-8.8],[2019.21,-7.7],[2019.53,-5.1],[2019.85,-1.2],[2020.12,2.3],[2020.39,6.2],[2020.71,8.8],[2021.03,9.8],[2021.35,9.3],[2021.67,8.0],[2021.99,6.4],[2022.31,5.9],[2022.74,5.8],[2023.11,5.4]];

// ---------------- seasonal cycles (per half month) ----------------
const seasonCOI = [-4.2, -5.4, -7.2, -8.9, -9.9, -9.3, -8.1, -4.6, 0.0, 5.6, 9.3, 11.6, 12.5, 11.9, 10.1, 7.7, 4.4, 1.4, -1.0, -2.4, -3.2, -3.4, -3.3, -3.5, -4.2];
const seasonTKB = [0.0, -1.5, -3.2, -4.6, -5.3, -5.5, -5.0, -3.9, -2.7, -1.4, -0.3, 0.8, 1.8, 2.8, 3.5, 4.0, 4.2, 4.1, 3.6, 3.1, 2.6, 2.1, 1.6, 0.9, -0.1];
const seasonTKY = [1.4, -0.5, -1.7, -2.2, -2.3, -2.2, -2.3, -2.9, -3.5, -3.9, -3.6, -2.9, -1.5, -0.3, 0.6, 1.3, 1.8, 2.4, 3.2, 4.2, 4.8, 4.9, 4.5, 3.2, 1.4];
const seasonHAT = [-3.6, -3.9, -3.6, -2.6, -1.6, -0.5, 0.5, 1.1, 1.35, 1.5, 1.65, 1.85, 2.1, 2.3, 2.3, 2.2, 1.95, 1.7, 1.3, 0.8, 0.0, -0.9, -1.9, -2.9, -3.6];
const seasonSYO = [-5.4, 0.8, 7.1, 11.6, 14.0, 14.9, 14.3, 12.2, 9.5, 6.6, 4.1, 2.0, -0.1, -2.1, -4.5, -6.0, -7.1, -8.1, -9.0, -9.9, -10.8, -11.2, -10.5, -8.4, -5.3];
const seasonSeries = [
  { name: "SYO (69°S)", values: seasonSYO, color: "#8c8c8c", dash: "" },
  { name: "TKY (36°N)", values: seasonTKY, color: "#1fbb1f", dash: "9,6" },
  { name: "HAT (24°N)", values: seasonHAT, color: "#ff0000", dash: "" },
  { name: "TKB (36°N)", values: seasonTKB, color: "#000000", dash: "" },
  { name: "COI  (43°N)", values: seasonCOI, color: "#1f5cff", dash: "" },
];
const legendOrder = ["COI  (43°N)", "TKB (36°N)", "TKY (36°N)", "HAT (24°N)", "SYO (69°S)"];

// ---------------- slide text ----------------
const para1 = [
  "Temporal variations at Takayama and Syowa are also shown",
  "in this slide. The average seasonal δ(Ar/N_2) cycles (upper",
  "right figure) show summer to autumn maxima in both",
  "hemispheres, and the seasonal amplitudes are larger at",
  "higher latitude.",
];
const para2 = [
  "We have recognized our δ(Ar/N_2) data are somewhat",
  "noisier than those reported by Scripps O_2 program. So, I am",
  "now trying to improve our measurements using a new",
  "mass spectrometer.",
];

// ====================================================================
type Spec = { x0: number; x1: number; y0: number; y1: number; xMax: number; top: boolean; rDom: [number, number]; rTicks: number[] };
type Sc = { x: d3.ScaleLinear<number, number>; yl: d3.ScaleLinear<number, number>; yr: d3.ScaleLinear<number, number> };
const TICK_FS = 17;

function scalesOf(sp: Spec): Sc {
  const x = d3.scaleLinear().domain([2012, sp.xMax]).range([sp.x0, sp.x1]);
  const yl = d3.scaleLinear().domain(sp.top ? [-80, 170] : [-187.5, 90]).range([sp.y1, sp.y0]);
  const yr = d3.scaleLinear().domain(sp.rDom).range([sp.y1, sp.y0]);
  return { x, yl, yr };
}

function Frame({ sp }: { sp: Spec }) {
  const s = scalesOf(sp);
  const ey = sp.top ? sp.y0 : sp.y1;
  const dir = sp.top ? 1 : -1;
  const xt = yearTicks.filter((t) => t <= sp.xMax + 1e-6);
  const lt = sp.top ? apoTicks : arTicks;
  const st = { stroke: "#000", strokeWidth: 1.6 };
  return (
    <g fontFamily={SERIF} fontSize={TICK_FS}>
      <line x1={sp.x0} x2={sp.x0} y1={sp.y0} y2={sp.y1} {...st} />
      <line x1={sp.x1} x2={sp.x1} y1={sp.y0} y2={sp.y1} {...st} />
      <line x1={sp.x0} x2={sp.x1} y1={ey} y2={ey} {...st} />
      {xt.map((t) => (
        <line key={"xt" + t} x1={s.x(t)} x2={s.x(t)} y1={ey} y2={ey + dir * 12} {...st} />
      ))}
      {!sp.top &&
        xt.map((t) => (
          <text key={"xl" + t} x={s.x(t)} y={sp.y1 + 23} textAnchor="middle" fill="#000" fontSize={18}>
            {t}
          </text>
        ))}
      {lt.map((v) => (
        <g key={"lt" + v}>
          <line x1={sp.x0} x2={sp.x0 + 12} y1={s.yl(v)} y2={s.yl(v)} {...st} />
          <text x={sp.x0 - 5} y={s.yl(v) + 6} textAnchor="end" fill="#000">
            {v}
          </text>
        </g>
      ))}
      {sp.rTicks.map((v) => (
        <g key={"rt" + v}>
          <line x1={sp.x1 - 12} x2={sp.x1} y1={s.yr(v)} y2={s.yr(v)} {...st} />
          <text x={sp.x1 + 6} y={s.yr(v) + 6} textAnchor="start" fill={RED}>
            {v}
          </text>
        </g>
      ))}
    </g>
  );
}

function pathL(s: Sc, data: Pt[], curve: d3.CurveFactory, right = false) {
  const g = d3
    .line<Pt>()
    .x((d) => s.x(d[0]))
    .y((d) => (right ? s.yr(d[1]) : s.yl(d[1])))
    .curve(curve);
  return g(data) || "";
}

function Series({ s, obs, fit, fitCurve, trend, rate, dots, extra }: { s: Sc; obs?: Pt[]; fit?: Pt[]; fitCurve?: d3.CurveFactory; trend: Pt[]; rate: Pt[]; dots?: Pt[]; extra?: { data: Pt[]; color: string } }) {
  return (
    <g>
      <path d={pathL(s, rate, d3.curveMonotoneX, true)} fill="none" stroke={RED} strokeWidth={1.7} />
      {dots && dots.map((d, i) => <rect key={"d" + i} x={s.x(d[0]) - 1.5} y={s.yl(d[1]) - 1.5} width={3} height={3} fill="#000" />)}
      {fit && <path d={pathL(s, fit, fitCurve || d3.curveMonotoneX)} fill="none" stroke="#000" strokeWidth={1.5} />}
      <path d={pathL(s, trend, d3.curveMonotoneX)} fill="none" stroke="#000" strokeWidth={1.2} strokeDasharray="7,4" />
      {obs && obs.map((d, i) => <circle key={"o" + i} cx={s.x(d[0])} cy={s.yl(d[1])} r={3} fill="none" stroke="#000" strokeWidth={1} />)}
      {extra && (
        <g>
          <path d={pathL(s, extra.data, d3.curveLinear)} fill="none" stroke={extra.color} strokeWidth={1.2} strokeDasharray="2,2" />
          {extra.data.map((d, i) => (
            <circle key={"e" + i} cx={s.x(d[0])} cy={s.yl(d[1])} r={3.6} fill={extra.color} stroke={extra.color} strokeWidth={1} />
          ))}
        </g>
      )}
    </g>
  );
}

function PanelLabel({ x, y, w, text }: { x: number; y: number; w: number; text: string }) {
  return (
    <g>
      <rect x={x} y={y} width={w} height={25} fill="#fff" stroke="#000" strokeWidth={1.4} />
      <text x={x + w / 2} y={y + 19} textAnchor="middle" fontFamily={SERIF} fontSize={19}>
        {text}
      </text>
    </g>
  );
}

function RotLabel({ x, y, ar, size = 17.5 }: { x: number; y: number; ar: boolean; size?: number }) {
  return (
    <text transform={`translate(${x},${y}) rotate(-90)`} textAnchor="middle" fontFamily={SERIF} fontSize={size} style={{ whiteSpace: "pre" }}>
      {ar ? (
        <>
          <tspan>δ(Ar/N</tspan>
          <tspan dy={size * 0.3} fontSize={size * 0.7}>2</tspan>
          <tspan dy={-size * 0.3}>{")  (per meg)"}</tspan>
        </>
      ) : (
        <tspan>{"δ(APO)  (per meg)"}</tspan>
      )}
    </text>
  );
}

function RateLabel({ x, y }: { x: number; y: number }) {
  return (
    <text transform={`translate(${x},${y}) rotate(90)`} textAnchor="middle" fontFamily={SERIF} fontSize={18} style={{ whiteSpace: "pre" }}>
      <tspan>{"Change rate  (per meg a"}</tspan>
      <tspan dy={-7} fontSize={12}>{" -1"}</tspan>
      <tspan dy={7}>{" )"}</tspan>
    </text>
  );
}

function SmallLegend({ x, y, color, text, cross }: { x: number; y: number; color: string; text: string; cross: boolean }) {
  return (
    <g>
      <line x1={x - 16} x2={x + 16} y1={y} y2={y} stroke={color} strokeWidth={1.2} strokeDasharray="2,2" />
      <circle cx={x} cy={y} r={5.5} fill="#fff" stroke={color} strokeWidth={1.3} />
      {cross ? (
        <path d={`M${x - 3},${y - 3}L${x + 3},${y + 3}M${x - 3},${y + 3}L${x + 3},${y - 3}`} stroke={color} strokeWidth={1.2} />
      ) : (
        <path d={`M${x - 4},${y}L${x + 4},${y}M${x},${y - 4}L${x},${y + 4}`} stroke={color} strokeWidth={1.2} />
      )}
      <text x={x + 24} y={y + 6} fontFamily={SERIF} fontSize={18}>
        {text}
      </text>
    </g>
  );
}

// -------- text measurement for justified paragraph --------
let ctx: CanvasRenderingContext2D | null = null;
function measure(str: string, size: number): number {
  if (!ctx) ctx = document.createElement("canvas").getContext("2d");
  if (!ctx) return str.length * size * 0.5;
  ctx.font = `${size}px Lato`;
  return ctx.measureText(str).width;
}

function Paragraph({ lines, y0, fs }: { lines: string[]; y0: number; fs: number }) {
  const L = 1038, R = 2118, lh = 53.3, sub = 0.62;
  const out: React.ReactNode[] = [];
  lines.forEach((ln, li) => {
    const words = ln.split(" ");
    const parts = words.map((w) => w.split(/_(\d)/));
    const widths = parts.map((ps) => ps.reduce((a, p, i) => a + measure(p, i % 2 ? fs * sub : fs), 0));
    const total = d3.sum(widths);
    const last = li === lines.length - 1;
    const gap = last ? measure(" ", fs) : (R - L - total) / (words.length - 1);
    let cx = L;
    const y = y0 + li * lh;
    words.forEach((w, wi) => {
      const xx = cx;
      cx += widths[wi] + gap;
      out.push(
        <text key={li + "-" + wi} x={xx} y={y}>
          {parts[wi].map((p, i) =>
            i % 2 ? (
              <tspan key={i} dy={fs * 0.2} fontSize={fs * sub}>{p}</tspan>
            ) : (
              <tspan key={i} dy={i > 0 ? -fs * 0.2 : 0}>{p}</tspan>
            )
          )}
        </text>
      );
    });
  });
  return <g fontFamily="Lato, 'Open Sans', sans-serif" fontSize={fs} fill="#000">{out}</g>;
}

function Seasonal() {
  const x0 = 1506, x1 = 2107, y0 = 17, y1 = 659;
  const sx = d3.scaleLinear().domain([0, 12]).range([x0, x1]);
  const sy = d3.scaleLinear().domain([-20, 20]).range([y1, y0]);
  const st = { stroke: "#000", strokeWidth: 1.8 };
  const line = d3.line<number>().x((_, i) => sx(seasonPos[i])).y((v) => sy(v)).curve(d3.curveCatmullRom.alpha(0.5));
  const lg = { x0: 1915, y0: 24, w: 209, h: 164 };
  return (
    <g fontFamily={SERIF}>
      <rect x={x0} y={y0} width={x1 - x0} height={y1 - y0} fill="none" {...st} />
      {d3.range(1, 12).map((m) => (
        <g key={"m" + m}>
          <line x1={sx(m)} x2={sx(m)} y1={y0} y2={y0 + 9} {...st} />
          <line x1={sx(m)} x2={sx(m)} y1={y1} y2={y1 - 10} {...st} />
        </g>
      ))}
      {seasonTicks.map((v) => (
        <g key={"st" + v}>
          <line x1={x0} x2={x0 + 19} y1={sy(v)} y2={sy(v)} {...st} />
          <line x1={x1 - 19} x2={x1} y1={sy(v)} y2={sy(v)} {...st} />
          <text x={x0 - 8} y={sy(v) + 9} textAnchor="end" fontSize={27}>{v}</text>
        </g>
      ))}
      {monthLabels.map((m, i) => (
        <text key={"ml" + i} x={sx(i + 0.5)} y={689} textAnchor="middle" fontSize={27}>{m}</text>
      ))}
      <text x={(x0 + x1) / 2} y={739} textAnchor="middle" fontSize={27}>Month</text>
      <text x={1521} y={56} fontSize={25}>Average seasonal cycles</text>
      {seasonSeries.map((s) => (
        <path key={s.name} d={line(s.values) || ""} fill="none" stroke={s.color} strokeWidth={1.8} strokeDasharray={s.dash} />
      ))}
      <rect x={lg.x0} y={lg.y0} width={lg.w} height={lg.h} fill="#fff" stroke="#000" strokeWidth={1.8} />
      {legendOrder.map((nm, i) => {
        const s = seasonSeries.find((q) => q.name === nm)!;
        const yy = 45 + i * 30.5;
        return (
          <g key={"lg" + nm}>
            <line x1={1923} x2={1972} y1={yy} y2={yy} stroke={s.color} strokeWidth={1.8} strokeDasharray={s.dash ? "6,5" : ""} />
            <text x={1984} y={yy + 9} fontSize={26} style={{ whiteSpace: "pre" }}>{nm}</text>
          </g>
        );
      })}
      <text transform="translate(1440,338) rotate(-90)" textAnchor="middle" fontSize={30} style={{ whiteSpace: "pre" }}>
        <tspan>δ(Ar/N</tspan>
        <tspan dy={9} fontSize={20}>2</tspan>
        <tspan dy={-9}>{")  (per meg)"}</tspan>
      </text>
    </g>
  );
}

export default function App() {
  const r1t = { y0: 13, y1: 320 }, r1b = { y0: 333, y1: 639 }, r2t = { y0: 679, y1: 986 }, r2b = { y0: 999, y1: 1305 };
  const tkbT: Spec = { x0: 78, x1: 454, xMax: 2023.5, top: true, rDom: [-27, -5], rTicks: rateTicksTKB, ...r1t };
  const tkbB: Spec = { x0: 78, x1: 454, xMax: 2023.5, top: false, rDom: [-15, 15], rTicks: rateTicksBot, ...r1b };
  const hatT: Spec = { x0: 524, x1: 899, xMax: 2024, top: true, rDom: [-27, 0], rTicks: rateTicksTop, ...r1t };
  const hatB: Spec = { x0: 524, x1: 899, xMax: 2024, top: false, rDom: [-15, 15], rTicks: rateTicksBot, ...r1b };
  const coiT: Spec = { x0: 964, x1: 1338, xMax: 2024, top: true, rDom: [-27, 0], rTicks: rateTicksTop, ...r1t };
  const coiB: Spec = { x0: 964, x1: 1338, xMax: 2024, top: false, rDom: [-15, 15], rTicks: rateTicksBot, ...r1b };
  const tkyT: Spec = { x0: 78, x1: 452, xMax: 2024, top: true, rDom: [-27, 0], rTicks: rateTicksTop, ...r2t };
  const tkyB: Spec = { x0: 78, x1: 452, xMax: 2024, top: false, rDom: [-15, 15], rTicks: rateTicksBot, ...r2b };
  const syoT: Spec = { x0: 532, x1: 906, xMax: 2024, top: true, rDom: [-27, 0], rTicks: rateTicksTop, ...r2t };
  const syoB: Spec = { x0: 532, x1: 906, xMax: 2024, top: false, rDom: [-15, 15], rTicks: rateTicksBot, ...r2b };

  const tkbApoPts: Pt[] = [
    ...tkbApoDots.map((v, i): Pt => [2012 + i / 24, v]),
    ...tkbApoDots2.map((v, i): Pt => [2012 + (i + 0.5) / 24, v]),
  ];
  const tkbArPts: Pt[] = tkbArDots.map((v, i) => [2012 + (i + 0.5) / 12, v]);
  const basis = d3.curveBasis;
  const cr = d3.curveCatmullRom.alpha(0.5);

  const base = measure(para1[0], 100);
  const fs = base > 0 ? (100 * 1074) / base : 44;

  return (
    <svg width={2145} height={1353} style={{ position: "absolute", left: 0, top: 0 }}>
      <rect x={0} y={0} width={2145} height={1353} fill="#fff" />
      <rect x={0} y={0} width={2145} height={3} fill="#8e9ef2" />

      {/* TKB */}
      <Series s={scalesOf(tkbT)} dots={tkbApoPts} fit={tkbApoFit} trend={tkbApoTrend} rate={tkbApoRate} />
      <Series s={scalesOf(tkbB)} dots={tkbArPts} fit={tkbArFit} trend={tkbArTrend} rate={tkbArRate} />
      <Frame sp={tkbT} />
      <Frame sp={tkbB} />
      <PanelLabel x={376} y={33} w={40} text="TKB" />
      <RotLabel x={24} y={167} ar={false} />
      <RotLabel x={24} y={486} ar={true} />

      {/* HAT */}
      <Series s={scalesOf(hatT)} obs={hatApoObs} fit={hatApoFit} trend={hatApoTrend} rate={hatApoRate} extra={{ data: mnmApo, color: "#c8c81e" }} />
      <Series s={scalesOf(hatB)} obs={hatArObs} fit={hatArObs} fitCurve={basis} trend={hatArTrend} rate={hatArRate} extra={{ data: mnmAr, color: "#c8c81e" }} />
      <Frame sp={hatT} />
      <Frame sp={hatB} />
      <PanelLabel x={832} y={42} w={40} text="HAT" />
      <SmallLegend x={835} y={559} color="#c8c81e" text="MNM" cross={false} />

      {/* COI */}
      <Series s={scalesOf(coiT)} obs={coiApoObs} fit={coiApoFit} trend={coiApoTrend} rate={coiApoRate} extra={{ data: ryoApo, color: "#22cc22" }} />
      <Series s={scalesOf(coiB)} obs={coiArObs} fit={coiArObs} fitCurve={basis} trend={coiArTrend} rate={coiArRate} extra={{ data: ryoAr, color: "#22cc22" }} />
      <Frame sp={coiT} />
      <Frame sp={coiB} />
      <PanelLabel x={1272} y={42} w={37} text="COI" />
      <SmallLegend x={1268} y={558} color="#22cc22" text="RYO" cross={true} />
      <RateLabel x={1393} y={168} />
      <RateLabel x={1393} y={485} />
      <text x={1151} y={688} textAnchor="middle" fontFamily={SERIF} fontSize={18}>Year</text>

      {/* TKY */}
      <Series s={scalesOf(tkyT)} obs={tkyApoObs} fit={tkyApoFit} trend={tkyApoTrend} rate={tkyApoRate} />
      <Series s={scalesOf(tkyB)} obs={tkyArObs} fit={tkyArObs} fitCurve={cr} trend={tkyArTrend} rate={tkyArRate} />
      <Frame sp={tkyT} />
      <Frame sp={tkyB} />
      <PanelLabel x={373} y={687} w={41} text="TKY" />
      <RotLabel x={24} y={836} ar={false} />
      <RotLabel x={24} y={1150} ar={true} />
      <text x={265} y={1350} textAnchor="middle" fontFamily={SERIF} fontSize={18}>Year</text>

      {/* SYO */}
      <Series s={scalesOf(syoT)} obs={syoApoObs} fit={syoApoFit} trend={syoApoTrend} rate={syoApoRate} />
      <Series s={scalesOf(syoB)} obs={syoArObs} fit={syoArObs} fitCurve={basis} trend={syoArTrend} rate={syoArRate} />
      <Frame sp={syoT} />
      <Frame sp={syoB} />
      <PanelLabel x={826} y={687} w={43} text="SYO" />
      <RateLabel x={960} y={831} />
      <RateLabel x={960} y={1151} />
      <text x={719} y={1350} textAnchor="middle" fontFamily={SERIF} fontSize={18}>Year</text>

      <Seasonal />

      <Paragraph lines={para1} y0={826} fs={fs} />
      <Paragraph lines={para2} y0={1146} fs={fs} />
    </svg>
  );
}
